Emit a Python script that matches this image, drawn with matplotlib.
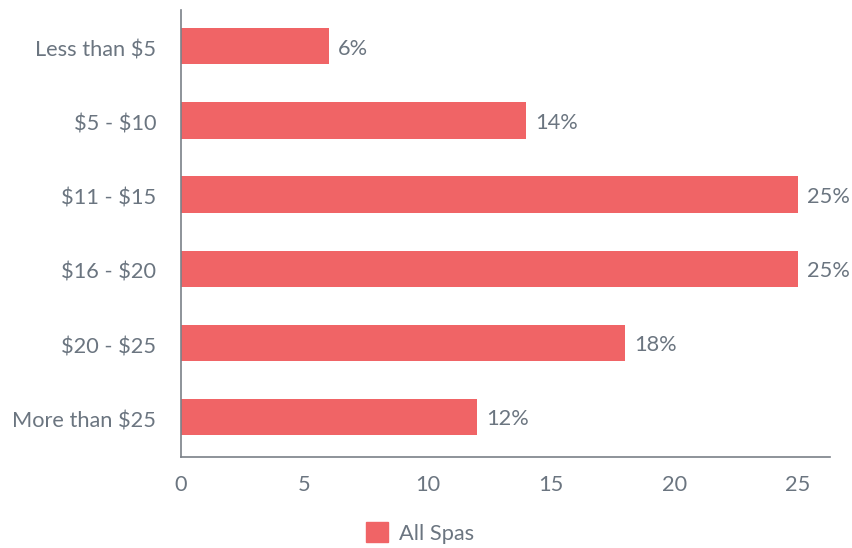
import matplotlib
matplotlib.use("Agg")
import matplotlib.pyplot as plt
import matplotlib.transforms as mtransforms
from matplotlib.patches import Patch

categories = ["Less than $5", "$5 - $10", "$11 - $15", "$16 - $20", "$20 - $25", "More than $25"]
values = [6, 14, 25, 25, 18, 12]
series_name = "All Spas"
xticks = [0, 5, 10, 15, 20, 25]

bar_color = "#f06466"
text_color = "#6b7580"
axis_color = "#7a8088"

plt.rcParams['font.family'] = ['Lato', 'DejaVu Sans']
plt.rcParams['text.parse_math'] = False
FS = 15.7

fig = plt.figure(figsize=(8.53, 5.48), dpi=100)
ax = fig.add_axes([181/853, 1 - 457/548, (830-181)/853, (457-10)/548])

ypos = list(range(len(categories)))
ax.barh(ypos, values, height=0.49, color=bar_color)
for y, v in zip(ypos, values):
    ax.annotate(f"{v}%", xy=(v, y), xytext=(6.5, -1.6), textcoords="offset points",
                va="center", ha="left", fontsize=FS, color=text_color)

ax.set_xlim(0, 26.3)
ax.set_ylim(5.54, -0.49)
ax.set_yticks(ypos)
ax.set_yticklabels(categories)
ax.set_xticks(xticks)
ax.tick_params(axis="both", length=0, labelsize=FS, labelcolor=text_color)
ax.tick_params(axis="y", pad=18)
ax.tick_params(axis="x", pad=13)
offset = mtransforms.ScaledTranslation(0, -1.6/72, fig.dpi_scale_trans)
for lbl in ax.get_yticklabels():
    lbl.set_transform(lbl.get_transform() + offset)
for s in ["top", "right"]:
    ax.spines[s].set_visible(False)
for s in ["left", "bottom"]:
    ax.spines[s].set_color(axis_color)
    ax.spines[s].set_linewidth(1.2)

fig.legend(handles=[Patch(color=bar_color, label=series_name)], loc="center",
           bbox_to_anchor=(420/853, 1 - 533/548), frameon=False, fontsize=FS,
           labelcolor=text_color, handlelength=1.0, handleheight=1.0, handletextpad=0.5)

fig.savefig("out.png", dpi=100)
